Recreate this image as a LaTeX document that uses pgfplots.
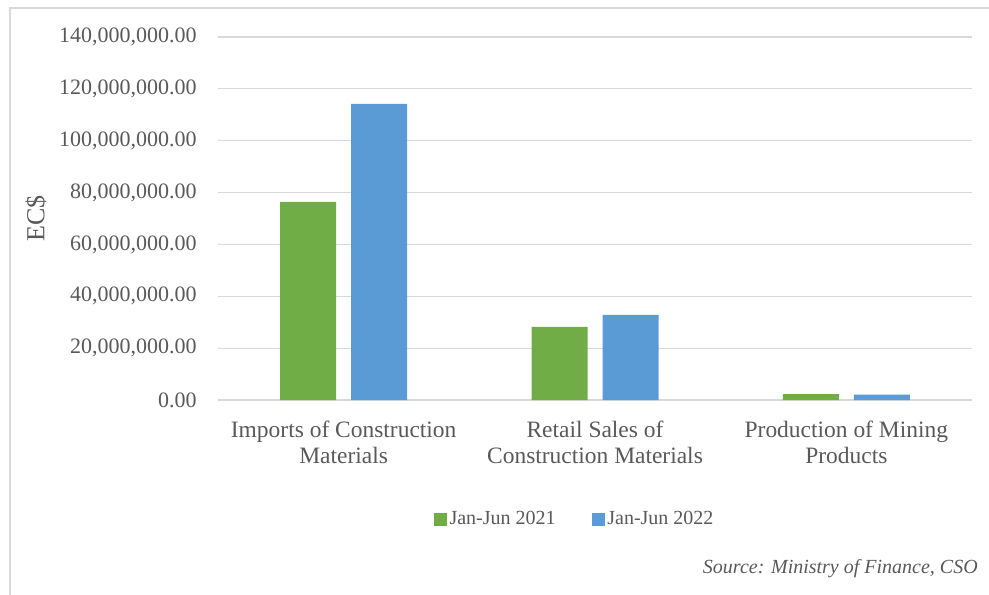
\documentclass[border=0pt]{standalone}
\usepackage{pgfplots}
\pgfplotsset{compat=1.18}
\usepackage{fontspec}
\setmainfont{Liberation Serif}
\definecolor{grn}{HTML}{70AD47}
\definecolor{blu}{HTML}{5B9BD5}
\definecolor{grd}{HTML}{D9D9D9}
\definecolor{txt}{HTML}{595959}
\newcommand{\lbl}{\fontsize{16.5}{19.5}\selectfont}

\begin{document}
\begin{tikzpicture}
  \path[use as bounding box] (0,0) rectangle (989*0.75pt,-595*0.75pt);
  % outer chart frame (only left and top are inside the crop)
  \draw[grd, line width=1.2pt] (10*0.75pt,-595*0.75pt) -- (10*0.75pt,-8*0.75pt) -- (989*0.75pt,-8*0.75pt);
  \begin{axis}[
    at = {(218*0.75pt,-400*0.75pt)}, anchor = south west,
    scale only axis,
    width = 754*0.75pt, height = 363*0.75pt,
    ybar = 11.25pt,
    bar width = 42pt,
    xmin = -0.5, xmax = 2.5,
    ymin = 0, ymax = 140000000,
    ytick = {0,20000000,...,140000000},
    xtick = data,
    xticklabels = {Imports of Construction\\Materials,
                   Retail Sales of\\Construction Materials,
                   Production of Mining\\Products},
    axis line style = {draw=none},
    major tick length = 0pt,
    ymajorgrids,
    grid style = {grd, line width=0.9pt},
    scaled y ticks = false,
    /pgf/number format/assume math mode = true,
    yticklabel = {\pgfmathprintnumber[fixed, fixed zerofill, precision=2, 1000 sep={,}]{\tick}},
    yticklabel style = {font=\lbl, text=txt, inner sep=0pt, anchor=east, xshift=-15.75pt},
    xticklabel style = {font=\fontsize{17.6}{19.5}\selectfont, text=txt, inner sep=0pt,
                        align=center, anchor=north, yshift=-15.5pt},
    ylabel = {EC\$},
    ylabel style = {font=\fontsize{19.5}{22}\selectfont, text=txt, rotate=0, anchor=center,
                    at={(axis description cs:-0.2414,0.501)}},
    legend columns = 2,
    legend style = {at={(axis description cs:0.4735,-0.328)}, anchor=center, draw=none,
                    font=\fontsize{15}{18}\selectfont, text=txt, inner sep=0pt,
                    /tikz/every even column/.append style={column sep=25pt}},
    legend image code/.code = {\fill[#1] (0pt,-4.9pt) rectangle (9.75pt,4.9pt);},
  ]
    \addplot[fill=grn, draw=none] coordinates {(0,76400000) (1,28200000) (2,2300000)};
    \addplot[fill=blu, draw=none] coordinates {(0,114200000) (1,32800000) (2,2100000)};
    \legend{Jan-Jun 2021, Jan-Jun 2022}
  \end{axis}
  \node[anchor=base east, inner sep=0pt, text=txt, font=\fontsize{15}{18}\selectfont\itshape]
    at (978*0.75pt,-573*0.75pt) {Source: Ministry of Finance, CSO};
\end{tikzpicture}
\end{document}
